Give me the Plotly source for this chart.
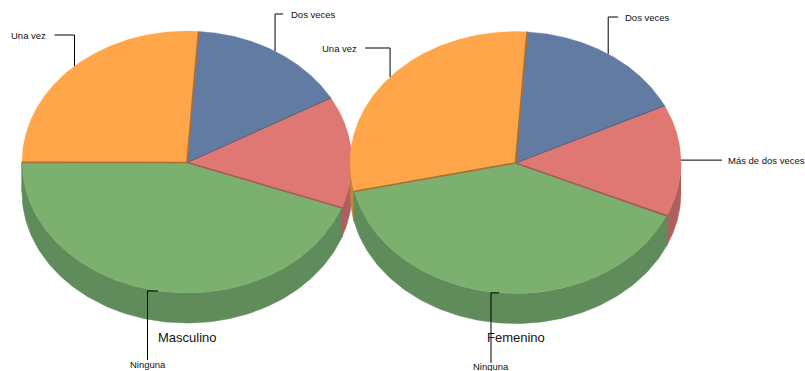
import numpy as np
import plotly.graph_objects as go

categories = ["Dos veces", "Más de dos veces", "Ninguna", "Una vez"]
masculino = [15.7, 13.8, 44.4, 26.1]
femenino = [16.7, 13.8, 39.9, 29.6]
group_names = ["Masculino", "Femenino"]

colors = ["#627BA3", "#DF7873", "#7BB06F", "#FFA64A"]
side_colors = ["#4E6282", "#AF5F5C", "#5F8C5A", "#C5833A"]
edge_colors = ["#4E6282", "#A85B58", None, "#A87034"]

START = 4.0
RY = 131.0
DEPTH = 30.0
pies = [
    dict(values=masculino, name=group_names[0], cx=187.0, cy=162.0, rx=165.0, title_y=337.5,
         labels={
             0: dict(elbow=(None, 14), end_dx=8, tx=289, anchor="left"),
             2: dict(elbow=(147.5, None), end_dy=69, tx=147.5, ty=364.5, anchor="center"),
             3: dict(elbow=(None, 35), end_dx=-20, tx=48, anchor="right"),
         }),
    dict(values=femenino, name=group_names[1], cx=515.5, cy=162.5, rx=165.5, title_y=337.5,
         labels={
             0: dict(elbow=(None, 17), end_dx=10, tx=623, anchor="left"),
             1: dict(elbow=(722, None), tx=725.5, anchor="left"),
             2: dict(elbow=(491, None), end_dy=70, tx=491, ty=366, anchor="center"),
             3: dict(elbow=(None, 48), end_dx=-25, tx=359, anchor="right"),
         }),
]

fig = go.Figure()


def pt(p, deg, dy=0.0):
    a = np.radians(deg)
    return p["cx"] + p["rx"] * np.sin(a), p["cy"] - RY * np.cos(a) + dy


def poly(xs, ys, color, width=0.6):
    fig.add_trace(go.Scatter(x=list(xs), y=list(ys), mode="lines", fill="toself", fillcolor=color,
                             line=dict(color=color, width=width), hoverinfo="skip", showlegend=False))


def line(xs, ys, color, width=1.0):
    fig.add_trace(go.Scatter(x=list(xs), y=list(ys), mode="lines", line=dict(color=color, width=width),
                             hoverinfo="skip", showlegend=False))


annotations = []
for p in pies:
    vals = np.array(p["values"], dtype=float)
    cum = START + np.concatenate([[0], np.cumsum(vals)]) * 360.0 / vals.sum()
    spans = list(zip(cum[:-1], cum[1:]))

    # cut faces, back to front
    for i in [0, 1, 3, 2]:
        for ang in spans[i]:
            x, y = pt(p, ang)
            poly([p["cx"], x, x, p["cx"]], [p["cy"], y, y + DEPTH, p["cy"] + DEPTH], side_colors[i])

    # outer walls: only the front half of the rim
    for i in [3, 0, 1, 2]:
        a0, a1 = spans[i]
        for lo, hi in [(a0, a1), (a0 - 360, a1 - 360)]:
            lo2, hi2 = max(lo, 90), min(hi, 270)
            if hi2 > lo2:
                t = np.linspace(lo2, hi2, 120)
                xt, yt = pt(p, t)
                poly(np.r_[xt, xt[::-1]], np.r_[yt, yt[::-1] + DEPTH], side_colors[i])

    # top faces
    for i in range(4):
        a0, a1 = spans[i]
        t = np.linspace(a0, a1, 160)
        xt, yt = pt(p, t)
        poly(np.r_[p["cx"], xt, p["cx"]], np.r_[p["cy"], yt, p["cy"]], colors[i], width=0.3)

    # darker radial edges
    for i in range(4):
        if edge_colors[i] is None:
            continue
        edges = spans[i] if i == 3 else (spans[i][1],)
        for ang in edges:
            x, y = pt(p, ang)
            line([p["cx"], x], [p["cy"] + 0.5, y + 0.5], edge_colors[i], 1.7 if i else 1.1)

    # leader lines and labels
    for i, spec in p["labels"].items():
        mid = (spans[i][0] + spans[i][1]) / 2
        x0, y0 = pt(p, mid)
        ex, ey = spec["elbow"]
        if ex is None:      # up, then sideways
            xs = [x0, x0, x0 + spec["end_dx"]]
            ys = [y0, ey, ey]
            ty = ey
        elif "end_dy" in spec:  # sideways, then down
            xs = [x0, ex, ex]
            ys = [y0, y0, y0 + spec["end_dy"]]
            ty = spec["ty"]
        else:               # straight out
            xs = [x0, ex]
            ys = [y0, y0]
            ty = y0
        line(xs, ys, "#000000", 1.0)
        annotations.append(dict(x=spec["tx"], y=ty, xref="x", yref="y", text=categories[i], showarrow=False,
                                xanchor=spec["anchor"], yanchor="middle", xshift=0, align="left",
                                font=dict(family="Liberation Sans", size=9.5, color="#111111")))

    annotations.append(dict(x=p["cx"], y=p["title_y"], xref="x", yref="y", text=p["name"], showarrow=False,
                            xanchor="center", yanchor="middle",
                            font=dict(family="Liberation Sans", size=13, color="#111111")))

fig.update_layout(
    width=805, height=371, margin=dict(l=0, r=0, t=0, b=0),
    paper_bgcolor="white", plot_bgcolor="white", showlegend=False,
    xaxis=dict(range=[0, 805], visible=False, fixedrange=True),
    yaxis=dict(range=[371, 0], visible=False, fixedrange=True),
    annotations=annotations,
)
fig.write_html("out.html", config=dict(displayModeBar=False),
               post_script="document.documentElement.style.overflow='hidden';document.body.style.margin='0';")
